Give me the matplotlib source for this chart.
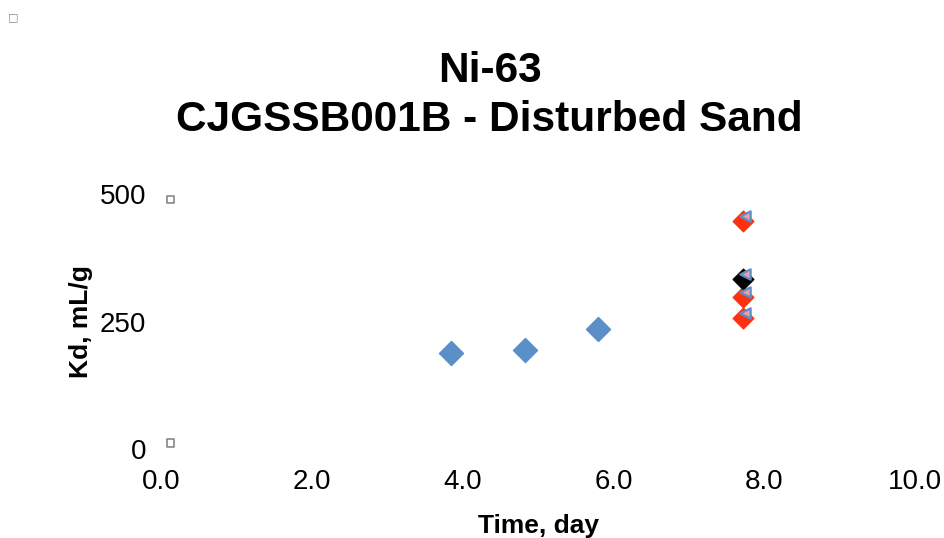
import matplotlib.pyplot as plt

plt.rcParams['font.family'] = ['Liberation Sans', 'DejaVu Sans']

# Data
batch_days = [3.84, 4.82, 5.80]
batch_kd = [188, 194, 235]

column_days = [7.72, 7.72, 7.72]
column_kd = [447, 298, 257]

avg_day = [7.72]
avg_kd = [333]

tri_days = [7.74, 7.74, 7.74, 7.74]
tri_kd = [457, 308, 267, 343]

stub_days = [0.12, 0.12]
stub_kd = [490, 12]

fig = plt.figure(figsize=(9.45, 5.38), dpi=100)
ax = fig.add_axes([0.171, 0.165, 0.797, 0.474])

ax.scatter(batch_days, batch_kd, marker='D', s=150, color='#5b8fc7', zorder=3)
ax.scatter(column_days, column_kd, marker='D', s=110, color='#ff3010', zorder=3)
ax.scatter(avg_day, avg_kd, marker='D', s=110, color='black', zorder=4)
ax.scatter(tri_days, tri_kd, marker='<', s=55, facecolor='#f0a0a0',
           edgecolor='#5b8fc7', linewidths=1.6, zorder=5)
ax.scatter(stub_days, stub_kd, marker='s', s=30, facecolor='none',
           edgecolor='#888888', linewidths=1.2, zorder=2)

ax.set_xlim(0, 10)
ax.set_ylim(0, 500)
ax.set_xticks([0, 2, 4, 6, 8, 10])
ax.set_xticklabels(['0.0', '2.0', '4.0', '6.0', '8.0', '10.0'])
ax.set_yticks([0, 250, 500])
ax.tick_params(axis='x', length=0, labelsize=20, pad=14)
ax.tick_params(axis='y', length=0, labelsize=20, pad=11)
for s in ax.spines.values():
    s.set_visible(False)
ax.set_xlabel('Time, day', fontsize=19, fontweight='bold', labelpad=14)
ax.set_ylabel('Kd, mL/g', fontsize=19, fontweight='bold', labelpad=5)

fig.text(0.518, 0.822, 'Ni-63\nCJGSSB001B - Disturbed Sand', ha='center', va='center',
         fontsize=30.5, fontweight='bold', linespacing=1.3)

# small box in the top left corner
fig.text(0.014, 0.968, '\u25a1', fontsize=8, color='#888888', ha='center', va='center',
         family=['DejaVu Sans'])

fig.savefig('out.png', dpi=100)
